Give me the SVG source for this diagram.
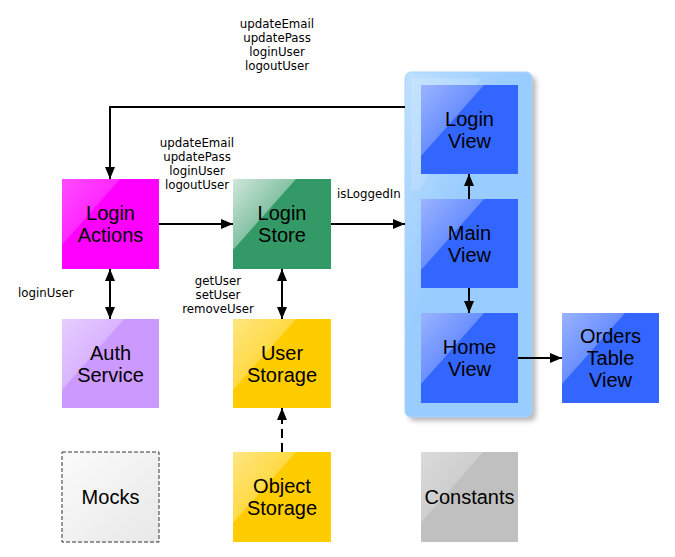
<svg xmlns="http://www.w3.org/2000/svg" width="675" height="557" viewBox="0 0 675 557">
<defs>
<linearGradient id="gloss" x1="0" y1="0" x2="1" y2="1">
<stop offset="0" stop-color="#fff" stop-opacity="0.85"/>
<stop offset="1" stop-color="#fff" stop-opacity="0.05"/>
</linearGradient>
<linearGradient id="cont" x1="0" y1="0" x2="1" y2="1">
<stop offset="0" stop-color="#bfe0ff"/>
<stop offset="0.4" stop-color="#99ccff"/>
<stop offset="1" stop-color="#99ccff"/>
</linearGradient>
<linearGradient id="mockg" x1="0" y1="0" x2="1" y2="1">
<stop offset="0" stop-color="#fbfbfb"/>
<stop offset="1" stop-color="#e8e8e8"/>
</linearGradient>
<filter id="sh" x="-20%" y="-20%" width="140%" height="140%">
<feGaussianBlur stdDeviation="2.5"/>
</filter>
<marker id="ah" viewBox="0 0 12 12" refX="12" refY="6" markerWidth="12" markerHeight="12" markerUnits="userSpaceOnUse" orient="auto-start-reverse">
<path d="M0,1 L12,6 L0,11 Z" fill="#000"/>
</marker>
</defs>
<style>
.lbl{font-family:"Liberation Sans",Arial,sans-serif;font-size:20px;fill:#000;text-anchor:middle}
.el{font-family:"DejaVu Sans",sans-serif;font-size:11.8px;fill:#000}
.c{text-anchor:middle}
.ln{fill:none;stroke:#000;stroke-width:2}
.gl{fill:url(#gloss)}
.view{fill:#3366ff}
</style>
<rect width="675" height="557" fill="#fff"/>

<g id="container">
<rect x="409" y="76" width="127" height="345" rx="6" fill="#888" opacity="0.6" filter="url(#sh)"/>
<rect x="405" y="72" width="127" height="345" rx="6" fill="url(#cont)" stroke="#a9d4ff" stroke-width="1"/>
<path d="M411,78 L480,78 L420,190 L411,190 Z" fill="#fff" opacity="0.15"/>
</g>

<g id="connectors">
<polyline class="ln" points="405,107 110,107 110,179" marker-end="url(#ah)"/>
<line class="ln" x1="159" y1="224" x2="233" y2="224" marker-end="url(#ah)"/>
<line class="ln" x1="331" y1="224" x2="405" y2="224" marker-end="url(#ah)"/>
<line class="ln" x1="110" y1="269" x2="110" y2="319" marker-start="url(#ah)" marker-end="url(#ah)"/>
<line class="ln" x1="282" y1="269" x2="282" y2="319" marker-start="url(#ah)" marker-end="url(#ah)"/>
<line class="ln" x1="282" y1="452" x2="282" y2="408" stroke-dasharray="9,5" marker-end="url(#ah)"/>
<line class="ln" x1="469" y1="199" x2="469" y2="174" marker-end="url(#ah)"/>
<line class="ln" x1="469" y1="288" x2="469" y2="313" marker-end="url(#ah)"/>
<line class="ln" x1="518" y1="358" x2="562" y2="358" marker-end="url(#ah)"/>
<text class="el c" x="277" y="28">updateEmail</text>
<text class="el c" x="277" y="42">updatePass</text>
<text class="el c" x="277" y="56">loginUser</text>
<text class="el c" x="277" y="70">logoutUser</text>
<text class="el c" x="197" y="147">updateEmail</text>
<text class="el c" x="197" y="161">updatePass</text>
<text class="el c" x="197" y="175">loginUser</text>
<text class="el c" x="197" y="189">logoutUser</text>
<text class="el" x="337" y="198">isLoggedIn</text>
<text class="el" x="18" y="297">loginUser</text>
<text class="el c" x="218" y="285">getUser</text>
<text class="el c" x="218" y="299">setUser</text>
<text class="el c" x="218" y="313">removeUser</text>
</g>

<g id="login-actions">
<rect x="62" y="179" width="97" height="90" fill="#ff00ff"/>
<path d="M62,179 L120,179 L62,245 Z" class="gl" opacity="0.35"/>
<text class="lbl" x="110.5" y="220">Login</text>
<text class="lbl" x="110.5" y="242">Actions</text>
</g>

<g id="login-store">
<rect x="233" y="179" width="98" height="90" fill="#339966"/>
<path d="M233,179 L296,179 L233,250 Z" class="gl" opacity="0.9"/>
<text class="lbl" x="282" y="220">Login</text>
<text class="lbl" x="282" y="242">Store</text>
</g>

<g id="auth-service">
<rect x="62" y="319" width="97" height="89" fill="#cc99ff"/>
<path d="M62,319 L124,319 L62,390 Z" class="gl" opacity="0.6"/>
<text class="lbl" x="110.5" y="360">Auth</text>
<text class="lbl" x="110.5" y="382">Service</text>
</g>

<g id="user-storage">
<rect x="233" y="319" width="98" height="89" fill="#ffcc00"/>
<path d="M233,319 L296,319 L233,390 Z" class="gl" opacity="0.6"/>
<text class="lbl" x="282" y="360">User</text>
<text class="lbl" x="282" y="382">Storage</text>
</g>

<g id="mocks">
<rect x="62" y="452" width="97" height="90" fill="url(#mockg)" stroke="#333" stroke-width="1" stroke-dasharray="4,2"/>
<text class="lbl" x="110.5" y="504">Mocks</text>
</g>

<g id="object-storage">
<rect x="233" y="452" width="98" height="90" fill="#ffcc00"/>
<path d="M233,452 L296,452 L233,523 Z" class="gl" opacity="0.6"/>
<text class="lbl" x="282" y="493">Object</text>
<text class="lbl" x="282" y="515">Storage</text>
</g>

<g id="constants">
<rect x="421" y="452" width="97" height="90" fill="#c0c0c0"/>
<path d="M421,452 L483,452 L421,523 Z" class="gl" opacity="0.5"/>
<text class="lbl" x="469.5" y="504">Constants</text>
</g>

<g id="login-view">
<rect x="421" y="85" width="97" height="89" class="view"/>
<path d="M421,85 L484,85 L421,156 Z" class="gl" opacity="0.6"/>
<text class="lbl" x="469.5" y="126">Login</text>
<text class="lbl" x="469.5" y="148">View</text>
</g>

<g id="main-view">
<rect x="421" y="199" width="97" height="89" class="view"/>
<path d="M421,199 L484,199 L421,270 Z" class="gl" opacity="0.6"/>
<text class="lbl" x="469.5" y="240">Main</text>
<text class="lbl" x="469.5" y="262">View</text>
</g>

<g id="home-view">
<rect x="421" y="313" width="97" height="90" class="view"/>
<path d="M421,313 L484,313 L421,384 Z" class="gl" opacity="0.6"/>
<text class="lbl" x="469.5" y="354">Home</text>
<text class="lbl" x="469.5" y="376">View</text>
</g>

<g id="orders-table-view">
<rect x="562" y="313" width="97" height="90" class="view"/>
<path d="M562,313 L625,313 L562,384 Z" class="gl" opacity="0.6"/>
<text class="lbl" x="610.5" y="343">Orders</text>
<text class="lbl" x="610.5" y="365">Table</text>
<text class="lbl" x="610.5" y="387">View</text>
</g>
</svg>
